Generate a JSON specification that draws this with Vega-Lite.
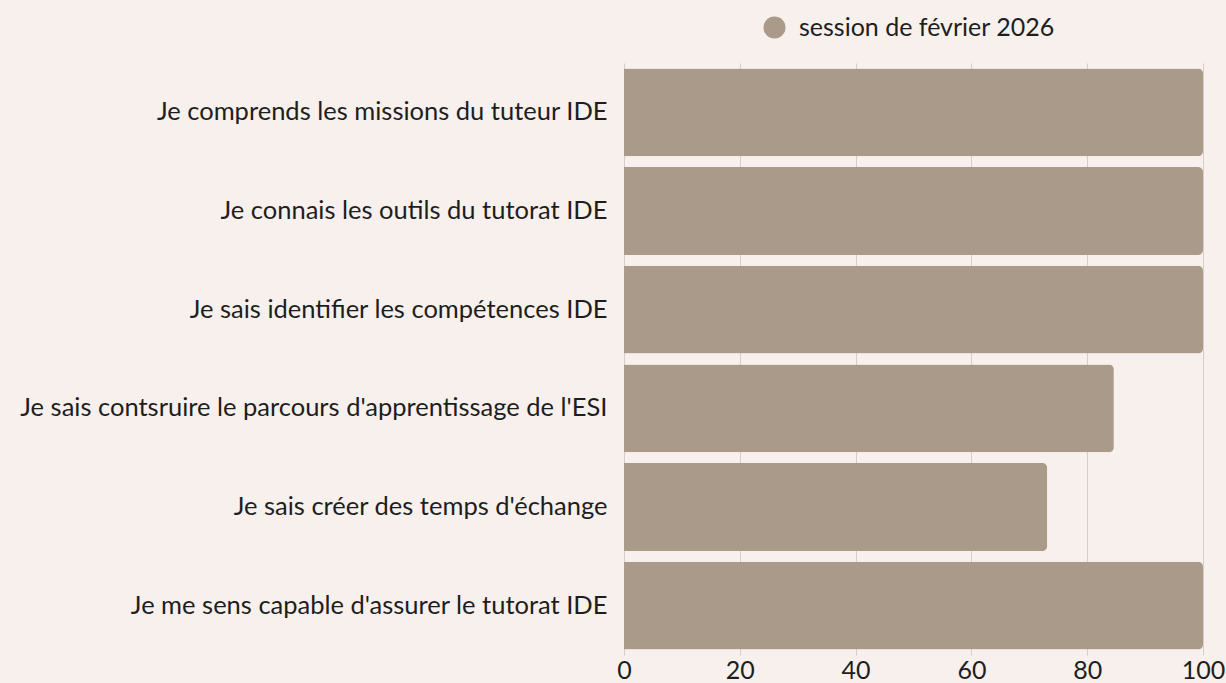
{
  "$schema": "https://vega.github.io/schema/vega-lite/v6.json",
  "width": 579,
  "height": 592,
  "autosize": "none",
  "padding": {"left": 624, "top": 63, "right": 23, "bottom": 28},
  "background": "#f7f0ec",
  "config": {
    "view": {"stroke": null},
    "font": "Lato"
  },
  "data": {
    "values": [
      {"item": "Je comprends les missions du tuteur IDE", "session": "session de février 2026", "pct": 100},
      {"item": "Je connais les outils du tutorat IDE", "session": "session de février 2026", "pct": 100},
      {"item": "Je sais identifier les compétences IDE", "session": "session de février 2026", "pct": 100},
      {"item": "Je sais contsruire le parcours d'apprentissage de l'ESI", "session": "session de février 2026", "pct": 84.6},
      {"item": "Je sais créer des temps d'échange", "session": "session de février 2026", "pct": 73.1},
      {"item": "Je me sens capable d'assurer le tutorat IDE", "session": "session de février 2026", "pct": 100}
    ]
  },
  "mark": {"type": "bar", "cornerRadiusEnd": 5},
  "encoding": {
    "y": {
      "field": "item",
      "type": "nominal",
      "sort": null,
      "title": null,
      "scale": {"paddingInner": 0.11, "paddingOuter": 0.055},
      "axis": {
        "domain": false,
        "ticks": false,
        "labelFontSize": 25.5,
        "labelColor": "#1e1e1e",
        "labelPadding": 17,
        "labelLimit": 700,
        "grid": false
      }
    },
    "x": {
      "field": "pct",
      "type": "quantitative",
      "title": null,
      "scale": {"domain": [0, 100]},
      "axis": {
        "values": [0, 20, 40, 60, 80, 100],
        "domain": false,
        "ticks": false,
        "labelFontSize": 25,
        "labelColor": "#1e1e1e",
        "labelPadding": 3,
        "labelFlush": false,
        "gridColor": "#d6cdc9",
        "gridWidth": 1
      }
    },
    "color": {
      "field": "session",
      "type": "nominal",
      "scale": {"range": ["#a99a89"]},
      "legend": {
        "title": null,
        "orient": "none",
        "legendX": 138,
        "legendY": -48,
        "symbolType": "circle",
        "symbolSize": 484,
        "labelFontSize": 25,
        "labelColor": "#1e1e1e",
        "labelLimit": 400,
        "labelOffset": 12
      }
    }
  }
}
